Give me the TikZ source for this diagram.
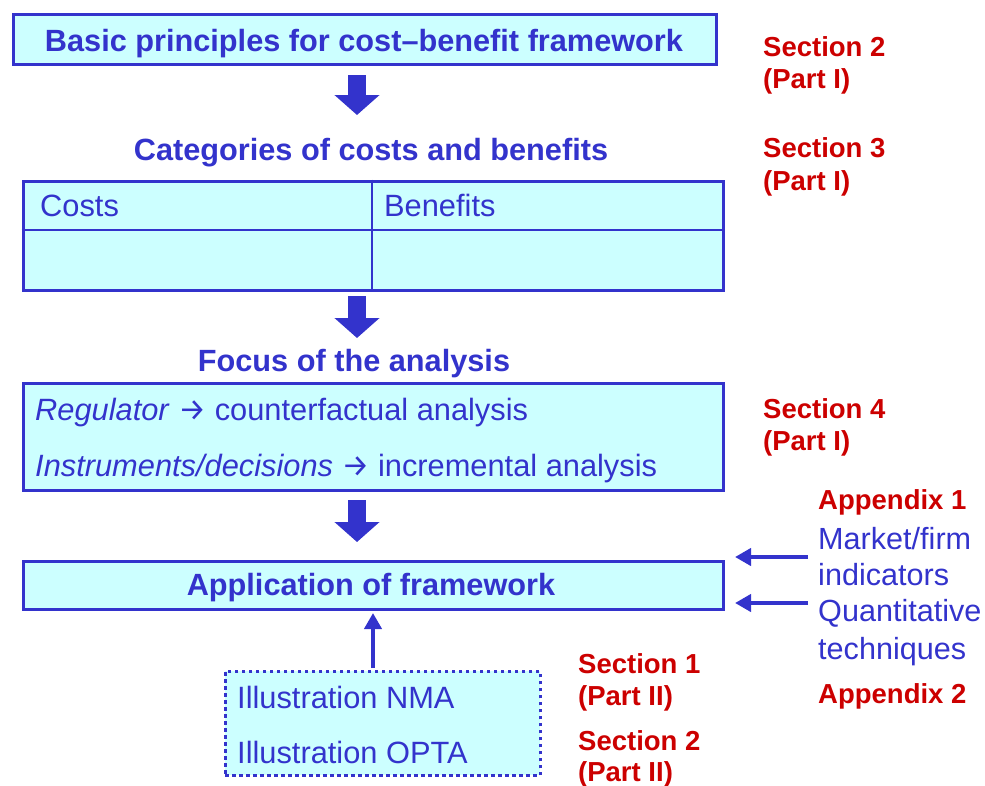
\documentclass[tikz,border=0pt]{standalone}
\usepackage{fontspec}
\setmainfont{Liberation Sans}
\newfontfamily\arrowfont{Fira Sans}
\usetikzlibrary{arrows.meta}
\definecolor{ink}{HTML}{3333CC}
\definecolor{pale}{HTML}{CCFFFF}
\definecolor{secred}{HTML}{CC0000}
% arrow glyph used inside the analysis lines
\newcommand{\implies}{{\arrowfont\fontsize{31}{36}\selectfont →}}
\begin{document}
\begin{tikzpicture}[x=1pt,y=-1pt,
  box/.style={draw=ink, fill=pale, line width=3pt, inner sep=0pt, anchor=north west},
  head/.style={text=ink, font=\fontsize{30.7}{36}\selectfont\bfseries, inner sep=0pt, anchor=base},
  body/.style={text=ink, font=\fontsize{30.8}{36}\selectfont, inner sep=0pt, anchor=base west},
  ref/.style={text=secred, font=\fontsize{27.5}{32}\selectfont\bfseries, inner sep=0pt, anchor=base west},
  side/.style={text=ink, font=\fontsize{30.6}{36}\selectfont, inner sep=0pt, anchor=base west},
  bigarrow/.style={draw=ink, line width=18pt, -{Triangle[width=44pt,length=20pt]}},
  thinarrow/.style={draw=ink, line width=4pt, -{Triangle[width=17pt,length=16pt]}},
]
\useasboundingbox (0,0) rectangle (985,785);

% main boxes
\node[box, minimum width=703pt, minimum height=50pt] (basic) at (11.5,12.5) {};
\node[box, minimum width=700pt, minimum height=109pt] (cat) at (21.5,179.5) {};
\node[box, minimum width=700pt, minimum height=107pt] (focus) at (21.5,381.5) {};
\node[box, minimum width=700pt, minimum height=48pt] (app) at (21.5,559.5) {};
\node[box, line width=3.5pt, dash pattern=on 3.5pt off 3.5pt, minimum width=315pt, minimum height=104pt] (illus) at (223.5,669.5) {};

% table rules
\draw[ink, line width=1.5pt] (cat.west |- 0,230) -- (cat.east |- 0,230);
\draw[ink, line width=1.5pt] (372,0 |- cat.north) -- (372,0 |- cat.south);

% headings
\node[head] (tbasic) at (364,51) {Basic principles for cost–benefit framework};
\node[head] (tcat) at (371,160) {Categories of costs and benefits};
\node[head] (tfocus) at (354,371) {Focus of the analysis};
\node[head] (tapp) at (371,595) {Application of framework};

% box contents
\node[body] (costs) at (40,216) {Costs};
\node[body] (benefits) at (384,216) {Benefits};
\node[body] (reg) at (35,420) {\textit{Regulator} \implies{} counterfactual analysis};
\node[body] (instr) at (35,476) {\textit{Instruments/decisions} \implies{} incremental analysis};
\node[body] (nma) at (237,708) {Illustration NMA};
\node[body] (opta) at (237,763) {Illustration OPTA};

% references
\node[ref] (s2) at (763,56) {Section 2};
\node[ref] (s2p) at (763,88) {(Part I)};
\node[ref] (s3) at (763,157) {Section 3};
\node[ref] (s3p) at (763,190) {(Part I)};
\node[ref] (s4) at (763,418) {Section 4};
\node[ref] (s4p) at (763,450) {(Part I)};
\node[ref] (ap1) at (818,509) {Appendix 1};
\node[ref] (ap2) at (818,703) {Appendix 2};
\node[ref] (p1) at (578,673) {Section 1};
\node[ref] (p1p) at (578,705) {(Part II)};
\node[ref] (p2) at (578,750) {Section 2};
\node[ref] (p2p) at (578,781) {(Part II)};

% side inputs
\node[side] (mkt) at (818,549) {Market/firm};
\node[side] (ind) at (818,585) {indicators};
\node[side] (quant) at (818,621) {Quantitative};
\node[side] (tech) at (818,659) {techniques};

% flow arrows
\coordinate (a1s) at (357,75);  \coordinate (a1e) at (357,115);
\coordinate (a2s) at (357,296); \coordinate (a2e) at (357,338);
\coordinate (a3s) at (357,500); \coordinate (a3e) at (357,542);
\draw[bigarrow] (a1s) -- (a1e);
\draw[bigarrow] (a2s) -- (a2e);
\draw[bigarrow] (a3s) -- (a3e);

\coordinate (upS) at (373,668);
\coordinate (upE) at (373,613);
\draw[thinarrow] (upS) -- (upE);

\coordinate (in1) at (808,557); \coordinate (in1e) at (735,557);
\coordinate (in2) at (808,603); \coordinate (in2e) at (735,603);
\draw[thinarrow] (in1) -- (in1e);
\draw[thinarrow] (in2) -- (in2e);
\end{tikzpicture}
\end{document}
